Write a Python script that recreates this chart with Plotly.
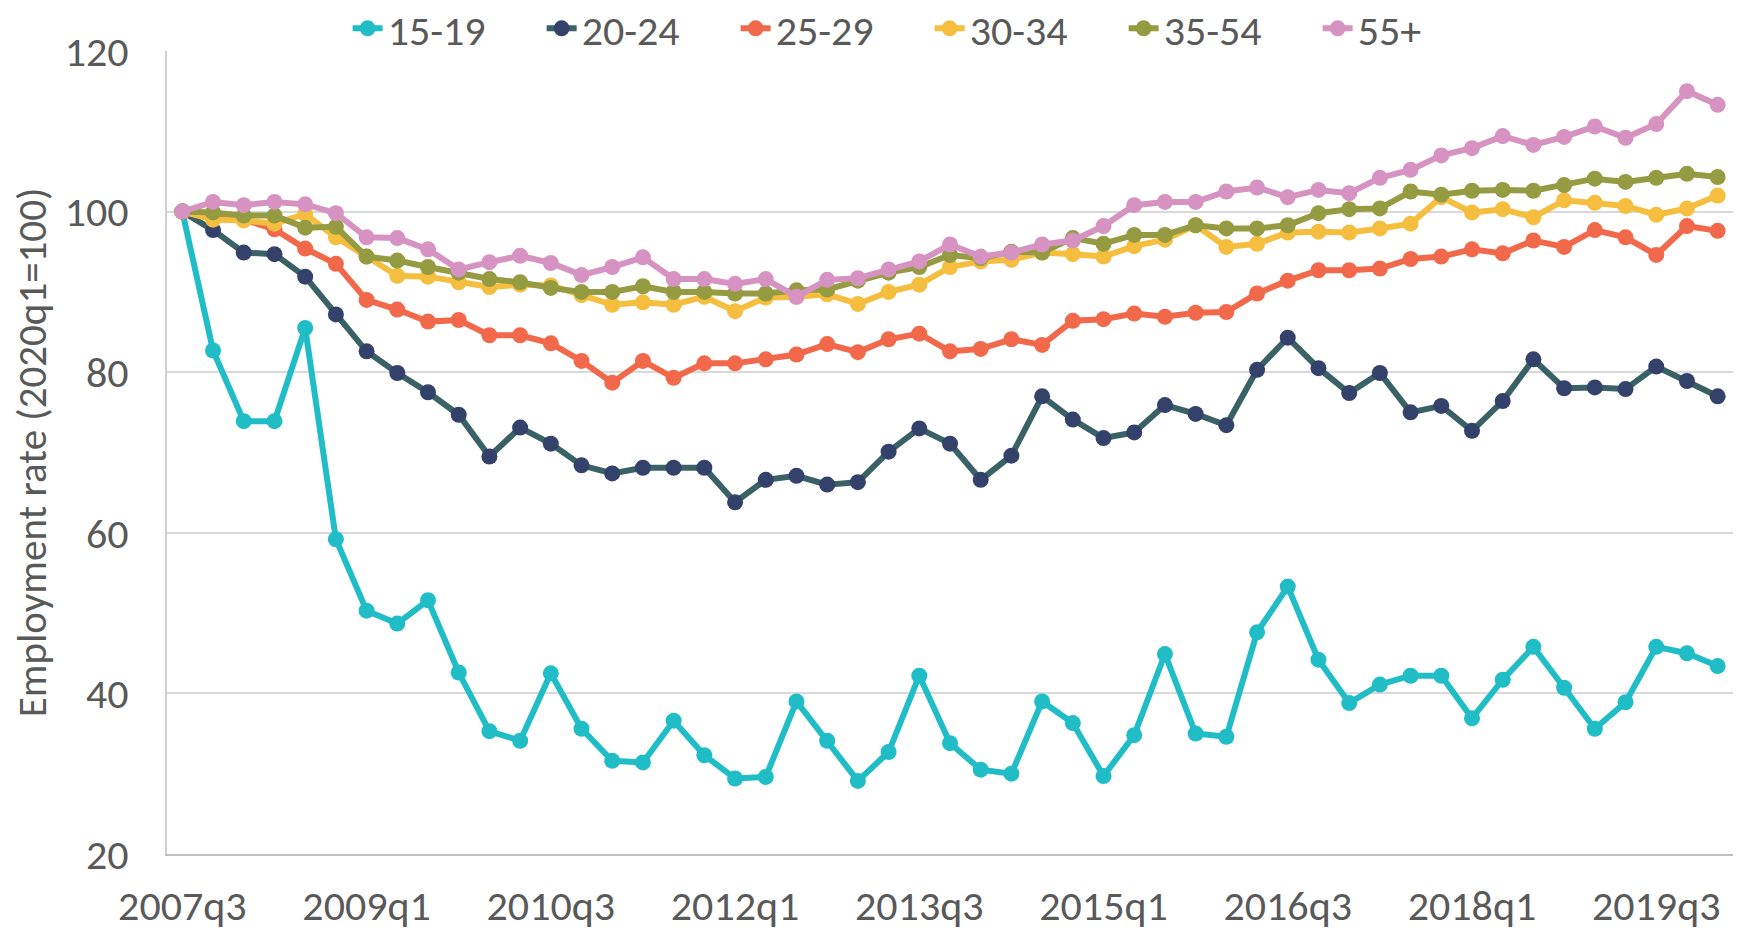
import plotly.graph_objects as go

quarters = [
    "2007q3", "2007q4", "2008q1", "2008q2", "2008q3", "2008q4",
    "2009q1", "2009q2", "2009q3", "2009q4", "2010q1", "2010q2",
    "2010q3", "2010q4", "2011q1", "2011q2", "2011q3", "2011q4",
    "2012q1", "2012q2", "2012q3", "2012q4", "2013q1", "2013q2",
    "2013q3", "2013q4", "2014q1", "2014q2", "2014q3", "2014q4",
    "2015q1", "2015q2", "2015q3", "2015q4", "2016q1", "2016q2",
    "2016q3", "2016q4", "2017q1", "2017q2", "2017q3", "2017q4",
    "2018q1", "2018q2", "2018q3", "2018q4", "2019q1", "2019q2",
    "2019q3", "2019q4", "2020q1",
]
tick_labels = ["2007q3", "2009q1", "2010q3", "2012q1", "2013q3",
               "2015q1", "2016q3", "2018q1", "2019q3"]

age_15_19 = [100, 82.7, 73.9, 73.9, 85.5, 59.2, 50.3, 48.7, 51.6, 42.6,
             35.3, 34.1, 42.5, 35.6, 31.6, 31.4, 36.6, 32.3, 29.4, 29.6,
             39.0, 34.1, 29.1, 32.7, 42.2, 33.8, 30.5, 30.0, 39.0, 36.3,
             29.7, 34.8, 44.9, 35.0, 34.6, 47.6, 53.3, 44.2, 38.8, 41.1,
             42.2, 42.2, 36.9, 41.7, 45.8, 40.7, 35.6, 38.9, 45.8, 45.0,
             43.4]
age_20_24 = [100, 97.7, 94.9, 94.7, 91.9, 87.2, 82.6, 79.9, 77.5, 74.7,
             69.5, 73.1, 71.1, 68.4, 67.4, 68.1, 68.1, 68.1, 63.8, 66.6,
             67.1, 66.0, 66.3, 70.1, 73.0, 71.1, 66.6, 69.6, 77.0, 74.1,
             71.8, 72.5, 75.9, 74.8, 73.4, 80.3, 84.3, 80.5, 77.4, 79.9,
             75.0, 75.8, 72.7, 76.4, 81.6, 78.0, 78.1, 77.9, 80.7, 78.9,
             77.0]
age_25_29 = [100, 99.3, 99.0, 97.8, 95.4, 93.5, 89.0, 87.8, 86.3, 86.5,
             84.6, 84.6, 83.6, 81.4, 78.7, 81.4, 79.3, 81.1, 81.1, 81.6,
             82.2, 83.5, 82.5, 84.1, 84.8, 82.6, 82.9, 84.1, 83.4, 86.4,
             86.6, 87.3, 86.9, 87.4, 87.5, 89.8, 91.4, 92.7, 92.7, 92.9,
             94.1, 94.4, 95.3, 94.8, 96.4, 95.6, 97.7, 96.8, 94.6, 98.2,
             97.6]
age_30_34 = [100, 99.0, 98.9, 98.5, 99.7, 96.8, 94.4, 92.0, 91.9, 91.2,
             90.6, 90.9, 90.8, 89.6, 88.4, 88.7, 88.4, 89.4, 87.6, 89.3,
             89.4, 89.7, 88.5, 90.0, 90.9, 93.1, 93.8, 94.0, 94.9, 94.7,
             94.4, 95.7, 96.5, 98.3, 95.6, 96.0, 97.4, 97.5, 97.4, 97.9,
             98.5, 101.8, 99.9, 100.3, 99.3, 101.4, 101.1, 100.7, 99.6, 100.4,
             102.0]
age_35_54 = [100, 99.9, 99.5, 99.5, 98.0, 98.1, 94.4, 93.9, 93.1, 92.4,
             91.6, 91.2, 90.5, 90.0, 90.0, 90.7, 90.0, 90.0, 89.8, 89.8,
             90.2, 90.3, 91.4, 92.4, 93.1, 94.6, 94.2, 95.0, 94.9, 96.7,
             96.0, 97.1, 97.1, 98.3, 97.9, 97.9, 98.3, 99.8, 100.3, 100.4,
             102.5, 102.1, 102.6, 102.7, 102.6, 103.3, 104.1, 103.7, 104.2, 104.7,
             104.3]
age_55_plus = [100, 101.2, 100.8, 101.2, 100.9, 99.8, 96.8, 96.7, 95.3, 92.8,
               93.7, 94.5, 93.6, 92.1, 93.1, 94.3, 91.6, 91.6, 91.0, 91.6,
               89.4, 91.5, 91.7, 92.8, 93.8, 95.9, 94.4, 94.9, 95.9, 96.4,
               98.2, 100.8, 101.2, 101.2, 102.5, 103.0, 101.8, 102.7, 102.3, 104.2,
               105.2, 107.0, 107.9, 109.4, 108.3, 109.3, 110.6, 109.2, 110.9, 115.0,
               113.3]

series = [
    ("15-19", age_15_19, "#20BDC7", "#20BDC7"),
    ("20-24", age_20_24, "#3A6165", "#34416A"),
    ("25-29", age_25_29, "#F1694A", "#F1694A"),
    ("30-34", age_30_34, "#F6BE3F", "#F6BE3F"),
    ("35-54", age_35_54, "#949B41", "#949B41"),
    ("55+", age_55_plus, "#D693C1", "#D693C1"),
]

FONT = "Calibri, Carlito, Lato, sans-serif"
GREY = "#595959"

fig = go.Figure()
for name, vals, lcol, mcol in series:
    fig.add_trace(go.Scatter(
        x=quarters, y=vals, name=name, mode="lines+markers",
        line=dict(color=lcol, width=6),
        marker=dict(color=mcol, size=16),
    ))

fig.update_layout(
    width=1743, height=933,
    margin=dict(l=167, r=10, t=51, b=79, autoexpand=False),
    paper_bgcolor="white", plot_bgcolor="white",
    font=dict(family=FONT, color=GREY, size=42),
    showlegend=True,
    legend=dict(orientation="h", x=0.487, xanchor="center", y=1.028,
                yanchor="middle", font=dict(size=42, color=GREY),
                itemsizing="trace", traceorder="normal",
                bgcolor="rgba(0,0,0,0)", entrywidth=149),
)
fig.update_xaxes(
    type="category", range=[-0.5, len(quarters) - 0.5],
    tickmode="array", tickvals=tick_labels, ticktext=tick_labels,
    showgrid=False, showline=True, linecolor="#BFBFBF", linewidth=2,
    ticks="", ticklabelstandoff=14, tickfont=dict(size=42, color=GREY),
    zeroline=False,
)
fig.update_yaxes(
    range=[20, 120], tickvals=[20, 40, 60, 80, 100, 120],
    showgrid=True, gridcolor="#D9D9D9", gridwidth=2,
    showline=True, linecolor="#D0D0D0", linewidth=2,
    ticks="", ticklabelstandoff=28, tickfont=dict(size=42, color=GREY),
    zeroline=False,
    title=dict(text="Employment rate (2020q1=100)", font=dict(size=41, color=GREY),
               standoff=5),
)

# remove the browser's default 8px body margin so the figure fills the window
fig.write_html("out.html", config={"displayModeBar": False},
               post_script="document.body.style.margin='0px';")
